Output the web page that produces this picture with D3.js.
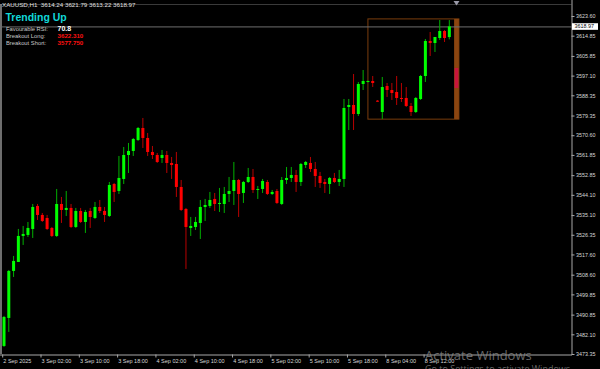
<!DOCTYPE html>
<html><head><meta charset="utf-8">
<script src="https://cdn.jsdelivr.net/npm/d3@7"></script>
<style>body{margin:0;background:#000}svg{display:block}</style>
</head><body><svg id="c" width="600" height="369"></svg>
<script>
// ---- data (XAUUSD H1) ----
const opens  = [3476.93,3489.38,3510.27,3514.27,3525.82,3526.27,3528.93,3539.16,3535.16,3533.82,3529.38,3525.82,3540.04,3537.38,3538.27,3529.82,3536.93,3532.04,3536.93,3533.82,3538.71,3536.93,3534.71,3548.93,3545.82,3551.16,3561.82,3563.60,3568.49,3573.82,3569.38,3563.16,3561.82,3560.49,3561.82,3558.27,3557.82,3547.60,3537.82,3529.38,3529.82,3531.60,3538.71,3539.16,3542.27,3540.04,3540.04,3544.49,3545.82,3550.71,3544.93,3549.82,3552.04,3546.27,3546.71,3549.82,3544.49,3545.82,3540.04,3550.71,3551.60,3552.93,3549.82,3557.38,3558.27,3555.60,3552.49,3549.82,3548.93,3551.60,3549.82,3551.16,3583.16,3584.04,3580.04,3593.38,3594.27,3594.71,3585.96,3580.93,3592.49,3590.71,3589.82,3587.16,3587.16,3583.60,3580.93,3586.71,3596.93,3612.49,3611.60,3613.82,3616.93,3614.24];
const highs  = [3490.27,3510.71,3516.93,3528.93,3530.27,3532.04,3540.04,3540.04,3536.04,3535.16,3529.82,3546.71,3543.16,3545.82,3540.04,3538.27,3538.27,3537.38,3538.27,3540.93,3541.82,3538.71,3549.82,3549.38,3561.38,3565.38,3567.16,3569.38,3574.27,3578.27,3571.60,3565.82,3562.71,3564.04,3563.60,3560.93,3563.16,3550.71,3538.27,3534.27,3534.27,3541.82,3542.27,3545.38,3544.93,3547.16,3547.60,3552.04,3558.71,3551.16,3550.27,3556.04,3555.60,3548.04,3551.16,3550.71,3546.27,3546.71,3552.04,3556.49,3556.49,3555.16,3558.27,3559.16,3560.93,3558.71,3554.27,3551.16,3552.04,3553.82,3555.16,3586.71,3586.71,3597.82,3594.27,3599.60,3594.90,3596.93,3586.20,3596.49,3593.82,3593.82,3596.93,3593.82,3592.04,3584.93,3587.60,3597.38,3613.38,3616.49,3614.27,3621.82,3617.38,3621.79];
const lows   = [3476.49,3483.16,3507.60,3514.27,3521.82,3525.38,3524.93,3532.93,3532.04,3528.49,3525.38,3525.38,3531.60,3534.71,3529.38,3529.38,3531.60,3527.16,3529.38,3533.38,3536.04,3532.04,3534.27,3540.93,3544.49,3548.93,3553.82,3561.38,3568.04,3564.93,3561.38,3560.04,3558.27,3558.27,3553.82,3551.16,3543.16,3536.93,3511.16,3525.82,3528.49,3524.49,3532.49,3538.27,3536.93,3536.49,3536.04,3540.93,3539.60,3534.27,3540.49,3549.38,3544.93,3542.27,3544.93,3544.04,3544.04,3540.04,3539.60,3548.93,3549.82,3545.38,3548.04,3556.04,3554.27,3547.60,3547.16,3544.93,3544.49,3549.38,3548.04,3547.60,3572.93,3572.93,3579.16,3590.71,3594.10,3592.04,3585.50,3577.82,3587.60,3586.27,3584.04,3585.38,3583.16,3579.16,3580.49,3586.27,3594.27,3605.82,3607.60,3612.93,3612.04,3613.22];
const closes = [3489.82,3510.27,3514.71,3525.82,3526.71,3529.38,3538.71,3535.16,3532.49,3528.93,3525.82,3540.04,3537.38,3538.27,3529.82,3536.93,3532.04,3536.49,3534.27,3538.71,3536.93,3535.16,3548.49,3545.38,3551.60,3561.82,3563.60,3568.93,3573.82,3569.38,3563.16,3561.82,3558.71,3561.82,3558.27,3557.38,3547.60,3537.38,3529.82,3530.27,3532.04,3538.71,3539.60,3541.82,3540.04,3540.49,3544.49,3545.82,3550.71,3544.49,3549.82,3552.04,3546.27,3546.71,3550.27,3544.49,3545.38,3540.49,3550.71,3551.60,3552.93,3549.82,3557.82,3558.71,3555.60,3552.49,3549.38,3548.93,3551.60,3549.82,3551.16,3582.71,3584.04,3580.04,3593.38,3594.71,3594.71,3593.82,3585.69,3592.04,3590.71,3589.38,3587.16,3586.71,3583.60,3580.93,3587.16,3596.93,3612.49,3611.60,3614.27,3616.93,3613.82,3618.97];

const priceTicks = [3623.60,3614.85,3605.85,3597.10,3588.35,3579.35,3570.60,3561.85,3552.85,3544.10,3535.10,3526.35,3517.60,3508.60,3499.85,3490.85,3482.10,3473.35];
const timeTickBars = [1,9,17,25,33,41,49,57,65,73,81,89];
const timeTickLabels = ["2 Sep 2025","3 Sep 02:00","3 Sep 10:00","3 Sep 18:00","4 Sep 02:00","4 Sep 10:00","4 Sep 18:00","5 Sep 02:00","5 Sep 10:00","5 Sep 18:00","8 Sep 04:00","8 Sep 12:00"];

const symbolHeader = "XAUUSD,H1  3614.24 3621.79 3613.22 3618.97";
const lastPrice = 3618.97;
const trendText = "Trending Up";
const rsiValue = "70.8";
const breakoutLong = 3622.310;
const breakoutShort = 3577.750;
const boxStartBar = 77, boxEndBar = 96;
const zoneTop = 3600.49, zoneBottom = 3591.60;

// ---- drawing ----
const svg = d3.select("#c");
const font = "'Liberation Sans', Arial, sans-serif";
svg.append("rect").attr("width",600).attr("height",369).attr("fill","#000");

const x = d3.scaleLinear().domain([1, 96]).range([4, 458.9]);
const y = d3.scaleLinear().domain([3473.35, 3623.60]).range([354, 16]);

// top border + left edge
svg.append("line").attr("x1",0).attr("x2",571.5).attr("y1",4.5).attr("y2",4.5).attr("stroke","#3a3a3a");
svg.append("line").attr("x1",1).attr("x2",1).attr("y1",4).attr("y2",354).attr("stroke","#8a8a8a").attr("stroke-width",1.6);

// breakout box
svg.append("rect")
  .attr("x", x(boxStartBar)).attr("y", y(breakoutLong))
  .attr("width", x(boxEndBar) - x(boxStartBar)).attr("height", y(breakoutShort) - y(breakoutLong))
  .attr("fill","none").attr("stroke","#7a3d0c").attr("stroke-width",1);
svg.append("rect")
  .attr("x", x(boxEndBar-1)).attr("y", y(breakoutLong))
  .attr("width", x(boxEndBar) - x(boxEndBar-1)).attr("height", y(breakoutShort) - y(breakoutLong))
  .attr("fill","#8b4510");
svg.append("rect")
  .attr("x", x(boxEndBar-1)+0.5).attr("y", y(zoneTop))
  .attr("width", x(boxEndBar) - x(boxEndBar-1)-1).attr("height", y(zoneBottom) - y(zoneTop))
  .attr("fill","#c8143c");

// bid line
svg.append("line").attr("x1",0).attr("x2",571.5).attr("y1",y(lastPrice)+0.5).attr("y2",y(lastPrice)+0.5)
  .attr("stroke","#6e6e6e").attr("stroke-width",1);

// candles
const data = opens.map((o,i)=>({i:i+1,o,h:highs[i],l:lows[i],c:closes[i]}));
const g = svg.append("g");
g.selectAll("line.w").data(data).join("line")
  .attr("x1",d=>x(d.i)).attr("x2",d=>x(d.i))
  .attr("y1",d=>y(d.h)).attr("y2",d=>y(d.l))
  .attr("stroke",d=>d.c>=d.o?"#00b000":"#b80000").attr("stroke-width",1);
g.selectAll("rect.b").data(data).join("rect")
  .attr("x",d=>x(d.i)-1.5).attr("width",3)
  .attr("y",d=>y(Math.max(d.o,d.c)))
  .attr("height",d=>Math.max(1, Math.abs(y(d.o)-y(d.c))))
  .attr("fill",d=>d.c>=d.o?"#00ff00":"#ff0000");

// shift triangle
svg.append("path").attr("d",`M${x(95.5)-3},1 L${x(95.5)+3},1 L${x(95.5)},5.5 Z`).attr("fill","#9a9aa8");

// right price axis
const ay = svg.append("g").attr("transform","translate(571.5,0)")
  .call(d3.axisRight(y).tickValues(priceTicks).tickFormat(d3.format(".2f")).tickSize(3).tickPadding(1.5));
ay.select(".domain").attr("stroke","#a8a8a8").attr("d","M0.5,0V354.5");
ay.selectAll(".tick line").attr("stroke","#a8a8a8");
ay.selectAll("text").attr("fill","#d8d8d8").attr("font-size","5.4px").attr("font-family",font);

// current price label
svg.append("rect").attr("x",572).attr("y",y(lastPrice)-3.2).attr("width",26).attr("height",6.6).attr("fill","#fff");
svg.append("text").attr("x",574.5).attr("y",y(lastPrice)+1.9).attr("fill","#000")
  .attr("font-size","5.4px").attr("font-family",font).text(d3.format(".2f")(lastPrice));

// bottom time axis
const ax = svg.append("g").attr("transform","translate(0,354.5)")
  .call(d3.axisBottom(x).tickValues(timeTickBars).tickFormat((d,i)=>timeTickLabels[i]).tickSize(3).tickPadding(1.5));
ax.select(".domain").attr("stroke","#a8a8a8").attr("d","M0,0.5H572");
ax.selectAll(".tick").attr("transform",d=>`translate(${x(d)-1.3},0)`);
ax.selectAll(".tick line").attr("stroke","#a8a8a8");
ax.selectAll("text").attr("fill","#d8d8d8").attr("font-size","5.5px").attr("font-family",font)
  .attr("text-anchor","start").attr("x",0.6);

// header texts
svg.append("text").attr("x",2).attr("y",7).attr("fill","#e0e0e0").attr("font-size","6.2px").attr("font-family",font)
  .attr("xml:space","preserve").text(symbolHeader);
svg.append("text").attr("x",5.5).attr("y",21).attr("fill","#12d8d8").attr("font-size","10.5px")
  .attr("font-weight","bold").attr("font-family",font).text(trendText);
const infoRows = [["Favourable RSI:", rsiValue, "#ffffff", 31.3],
  ["Breakout Long:", d3.format(".3f")(breakoutLong), "#ff1010", 37.5],
  ["Breakout Short:", d3.format(".3f")(breakoutShort), "#ff1010", 44.5]];
infoRows.forEach(r=>{
  svg.append("text").attr("x",6).attr("y",r[3]).attr("fill","#c8c8c8").attr("font-size","5.8px").attr("font-family",font).text(r[0]);
  svg.append("text").attr("x",57.5).attr("y",r[3]-(r[2]==="#ffffff"?0.6:0)).attr("fill",r[2])
    .attr("font-size", r[2]==="#ffffff"?"7px":"6.2px").attr("font-weight","bold").attr("font-family",font).text(r[1]);
});

// watermark
svg.append("text").attr("x",425).attr("y",360).attr("fill","#8c8c8c").attr("fill-opacity",0.75)
  .attr("font-size","13px").attr("font-family","'Open Sans', 'Noto Sans', sans-serif").text("Activate Windows");
svg.append("text").attr("x",425).attr("y",372).attr("fill","#8c8c8c").attr("fill-opacity",0.75)
  .attr("font-size","9px").attr("font-family","'Open Sans', 'Noto Sans', sans-serif").text("Go to Settings to activate Windows.");
</script></body></html>
